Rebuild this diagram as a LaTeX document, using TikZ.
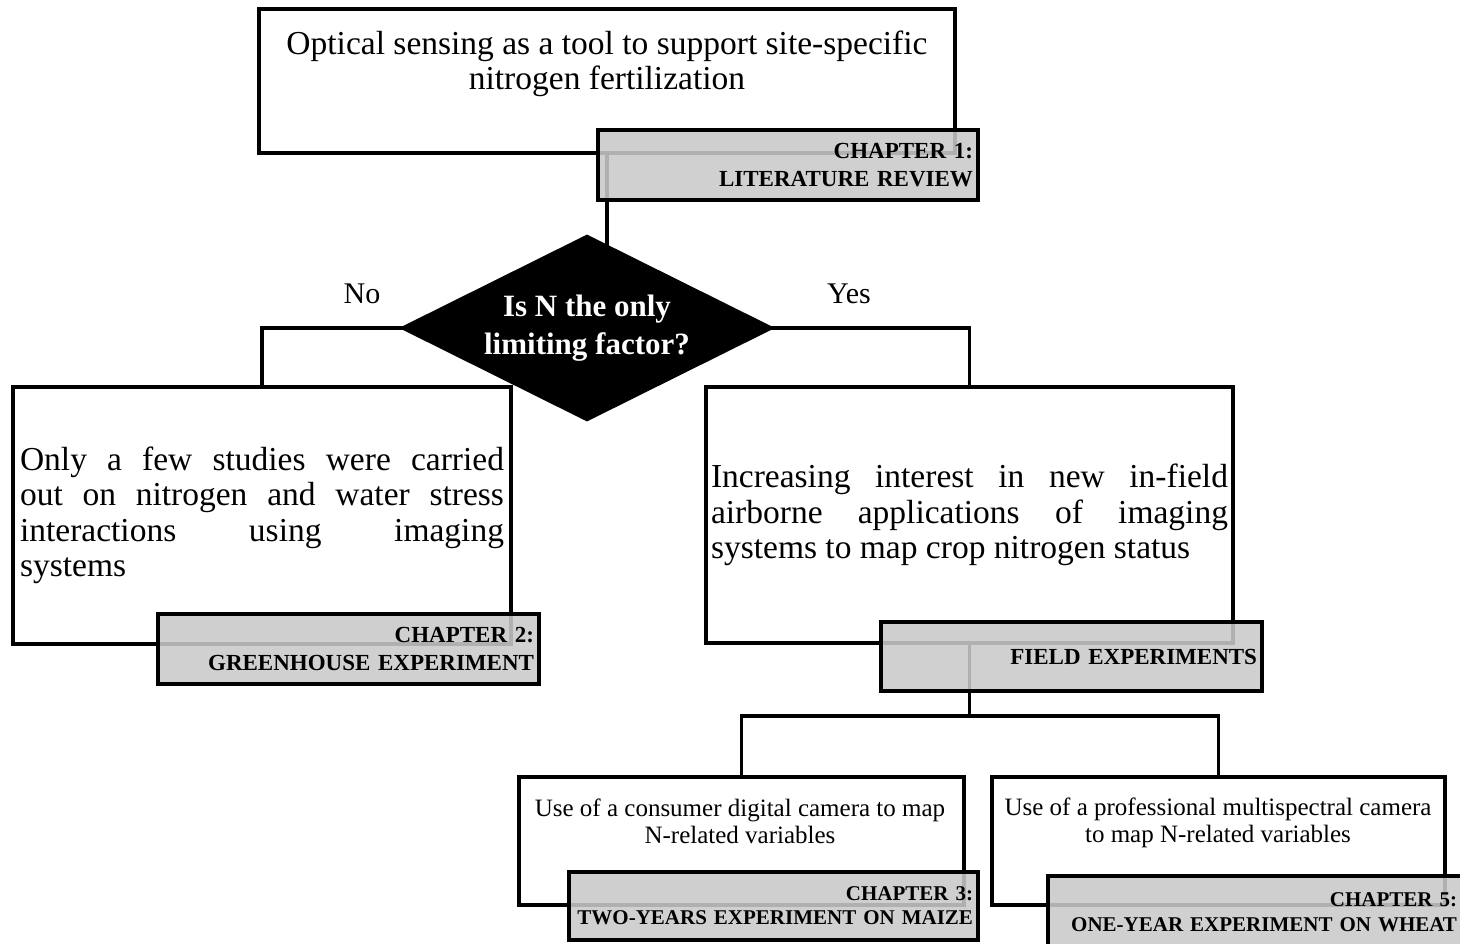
\documentclass[tikz,border=0pt]{standalone}
\usepackage{fontspec}
\setmainfont{Liberation Serif}
\usetikzlibrary{shapes.geometric,backgrounds}
\definecolor{chapgray}{gray}{0.79}
% one justified line of a box text
\newcommand{\jline}[1]{\hbox to\hsize{#1}}
\tikzset{
  whitebox/.style={draw,line width=3.3pt,fill=white,inner sep=0pt},
  chapbox/.style={draw,line width=3.3pt,fill=chapgray,fill opacity=.88,text opacity=1,
    align=right,inner xsep=5pt,inner ysep=0pt,font=\fontsize{23}{28}\selectfont\bfseries},
  bodytext/.style={font=\fontsize{33.5}{35.5}\selectfont},
  smalltext/.style={font=\fontsize{25}{27}\selectfont},
  link/.style={line width=3.3pt}
}
\begin{document}
\begin{tikzpicture}[x=1pt,y=-1pt]
  \useasboundingbox (0,0) rectangle (1460,944);
  % literature review
  \node[whitebox,minimum width=696pt,minimum height=144pt] (top) at (607,81) {};
  \node[bodytext,align=center] (topT) at (607,64) {Optical sensing as a tool to support site-specific\\nitrogen fertilization};
  % decision
  \node[diamond,fill=black,aspect=2,inner sep=0pt,minimum width=376pt,minimum height=187pt,
    text=white,align=center,font=\fontsize{31}{38}\selectfont\bfseries] (dec) at (587,328) {Is N the only\\limiting factor?};
  \node[font=\fontsize{30}{36}\selectfont] (no) at (362,294) {No};
  \node[font=\fontsize{30}{36}\selectfont] (yes) at (849,294) {Yes};
  % branches
  \node[whitebox,bodytext,text width=484pt,align=justify,inner xsep=7pt,minimum height=257pt] (lbox) at (262,515.5)
    {\vbox{\jline{Only a few studies were carried}\jline{out on nitrogen and water stress}\jline{interactions using imaging}\hbox{systems}}};
  \node[whitebox,bodytext,text width=517pt,align=justify,inner xsep=5pt,minimum height=256pt] (rbox) at (969.5,515)
    {\vbox{\jline{Increasing interest in new in-field}\jline{airborne applications of imaging}\hbox{systems to map crop nitrogen status}}};
  \node[whitebox,minimum width=445pt,minimum height=128pt] (blbox) at (741.5,841) {};
  \node[smalltext,align=center] (blT) at (740,821.5) {Use of a consumer digital camera to map\\N-related variables};
  \node[whitebox,minimum width=453pt,minimum height=128pt] (brbox) at (1218.5,841) {};
  \node[smalltext,align=center] (brT) at (1218,823) {Use of a professional multispectral camera\\to map N-related variables};
  \coordinate (fork) at (969.5,716);
  \begin{pgfonlayer}{background}
    \draw[link] (top.south) -- (top.south |- dec.center);
    \draw[link] (dec.center) -| (lbox.north);
    \draw[link] (dec.center) -| (rbox.north);
    \draw[link] (rbox.south) -- (fork);
    \draw[link] (blbox.north) |- (fork) -| (brbox.north);
  \end{pgfonlayer}
  % chapter labels
  \node[chapbox,text width=370pt,minimum height=70pt] (ch1) at (788,165) {CHAPTER 1:\\LITERATURE REVIEW};
  \node[chapbox,text width=371pt,minimum height=70pt] (ch2) at (348.5,649) {CHAPTER 2:\\GREENHOUSE EXPERIMENT};
  \node[chapbox,text width=371pt,minimum height=69pt] (field) at (1071.5,656.5) {FIELD EXPERIMENTS};
  \node[chapbox,text width=399pt,minimum height=68pt,font=\fontsize{21}{24}\selectfont\bfseries] (ch3) at (773.5,906) {CHAPTER 3:\\TWO-YEARS EXPERIMENT ON MAIZE};
  \node[chapbox,text width=404pt,minimum height=72pt,font=\fontsize{21}{25}\selectfont\bfseries] (ch5) at (1255,912) {CHAPTER 5:\\ONE-YEAR EXPERIMENT ON WHEAT};
\end{tikzpicture}
\end{document}
